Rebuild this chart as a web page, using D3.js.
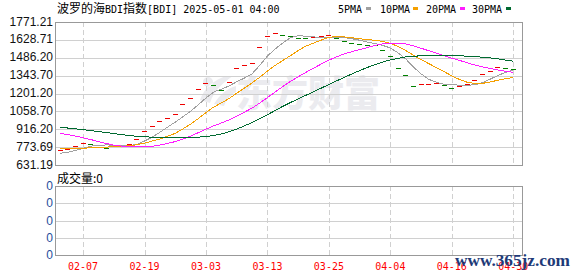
<!DOCTYPE html>
<html><head><meta charset="utf-8">
<script src="https://cdn.jsdelivr.net/npm/d3@7/dist/d3.min.js"></script>
<style>
html,body{margin:0;padding:0;background:#fff;}
svg{display:block;}
</style></head>
<body>
<svg id="chart" width="578" height="276"></svg>
<script>
// ---- data ----
const dates = ["02-04","02-05","02-06","02-07","02-10","02-11","02-12","02-13","02-14","02-17",
  "02-18","02-19","02-20","02-21","02-24","02-25","02-26","02-27","02-28","03-03",
  "03-04","03-05","03-06","03-07","03-10","03-11","03-12","03-13","03-14","03-17",
  "03-18","03-19","03-20","03-21","03-24","03-25","03-26","03-27","03-28","03-31",
  "04-01","04-02","04-03","04-04","04-07","04-08","04-09","04-10","04-11","04-14",
  "04-15","04-16","04-17","04-22","04-23","04-24","04-25","04-28","04-29","04-30"];
const prevClose = 740;
const closeValues = [751,761,785,809,801,790,769,781,790,801,
  836,900,940,982,1006,1035,1115,1163,1235,1282,
  1271,1229,1290,1402,1428,1442,1569,1659,1681,1667,
  1659,1646,1640,1650,1659,1664,1641,1622,1606,1595,
  1590,1588,1547,1500,1402,1349,1261,1277,1280,1287,
  1269,1242,1262,1276,1306,1356,1378,1410,1402,1394];
const ma5 = [724,733,746,764,781,789,791,790,786,786,
  795,822,853,892,933,973,1016,1060,1111,1166,
  1213,1236,1261,1295,1324,1358,1426,1500,1556,1604,
  1647,1662,1658,1652,1650,1651,1651,1647,1638,1626,
  1611,1600,1585,1564,1525,1477,1412,1358,1314,1291,
  1275,1271,1268,1267,1271,1288,1316,1345,1370,1388];
const ma10 = [759,760,762,765,768,771,774,777,780,784,
  792,806,822,839,860,884,919,957,1001,1049,
  1093,1126,1161,1203,1245,1286,1331,1381,1425,1464,
  1503,1544,1579,1603,1627,1649,1656,1652,1645,1638,
  1631,1625,1616,1601,1576,1544,1506,1472,1439,1408,
  1376,1341,1313,1291,1281,1282,1293,1307,1319,1330];
const ma20 = [884,874,862,848,834,818,803,790,782,778,
  777,777,780,790,803,818,838,862,889,917,
  943,966,991,1021,1052,1085,1125,1169,1213,1257,
  1298,1335,1370,1403,1436,1467,1494,1517,1535,1551,
  1567,1585,1597,1602,1601,1596,1581,1562,1542,1523,
  1503,1483,1465,1446,1428,1413,1400,1389,1379,1369];
const ma30 = [932,926,920,913,906,898,890,882,874,866,
  860,856,853,851,850,849,849,850,853,858,
  866,878,896,918,943,970,1000,1032,1065,1099,
  1129,1159,1187,1215,1244,1273,1302,1330,1357,1384,
  1409,1432,1452,1469,1482,1493,1498,1502,1503,1503,
  1503,1504,1503,1498,1494,1491,1485,1477,1468,1458];
const yTickLabels = ["1771.21","1628.71","1486.20","1343.70","1201.20","1058.70","916.20","773.69","631.19"];
const xTickLabels = ["02-07","02-19","03-03","03-13","03-25","04-04","04-16","04-30"];
const volTickLabels = ["0","0","0","0","0"];
const seriesNames = ["5PMA","10PMA","20PMA","30PMA"];
const titleParts = ["波罗的海","BDI","指数","[BDI] 2025-05-01 04:00"];
const volTitle = "成交量:0";

// ---- layout ----
const svg = d3.select("#chart");
const L = 55, R = 522, T = 22, B = 165;
const VT = 186, VB = 255;
const monoFont = "'DejaVu Sans Mono', monospace";
const cjkFont = "'Noto Sans CJK SC', sans-serif";
const sansFont = "'Liberation Sans', Arial, sans-serif";
const colors = ["#a0a0a0", "#f5a000", "#ff1cff", "#006a30"];
const maSeries = [ma5, ma10, ma20, ma30];

const x = d3.scalePoint().domain(dates).range([60, 513.3]);
const yVals = yTickLabels.map(Number);
const y = d3.scaleLinear().domain([d3.min(yVals), d3.max(yVals)]).range([B, T]);
const yv = d3.scaleLinear().domain([0, volTickLabels.length - 1]).range([VB, VT]);

// watermark (logo)
const wm = svg.append("g").attr("fill", "#ebebef");
wm.append("path")
  .attr("d", "M200,100 C204,88 214,80 226,76 L233,76 C224,82 214,90 210,103 Z M214,104 C220,94 228,88 236,86 L236,92 C230,95 226,100 224,106 Z M203,82 a5,5 0 1,0 10,0 a5,5 0 1,0 -10,0");
wm.append("text").attr("x", 236).attr("y", 107)
  .attr("font-family", cjkFont).attr("font-weight", 900).attr("font-size", 36)
  .text("东方财富");

// grid main
const gMain = svg.append("g").attr("shape-rendering", "crispEdges");
gMain.selectAll("line.h").data(yVals).enter().append("line")
  .attr("x1", L).attr("x2", R).attr("y1", d => Math.round(y(d)) + 0.5).attr("y2", d => Math.round(y(d)) + 0.5)
  .attr("stroke", "#d0d0d0");
const xTickDates = xTickLabels;
gMain.selectAll("line.v").data(xTickDates).enter().append("line")
  .attr("x1", d => Math.round(x(d)) + 0.5).attr("x2", d => Math.round(x(d)) + 0.5)
  .attr("y1", T).attr("y2", B)
  .attr("stroke", "#d0d0d0").attr("stroke-dasharray", "5,3");

// grid volume
const gVol = svg.append("g").attr("shape-rendering", "crispEdges");
gVol.selectAll("line.h").data(d3.range(volTickLabels.length)).enter().append("line")
  .attr("x1", L).attr("x2", R).attr("y1", d => Math.round(yv(d)) + 0.5).attr("y2", d => Math.round(yv(d)) + 0.5)
  .attr("stroke", "#d0d0d0");
gVol.selectAll("line.v").data(xTickDates).enter().append("line")
  .attr("x1", d => Math.round(x(d)) + 0.5).attr("x2", d => Math.round(x(d)) + 0.5)
  .attr("y1", VT).attr("y2", VB)
  .attr("stroke", "#d0d0d0").attr("stroke-dasharray", "5,3");

// frames
svg.append("rect").attr("x", L + 0.5).attr("y", T + 0.5).attr("width", R - L).attr("height", B - T)
  .attr("fill", "none").attr("stroke", "#999").attr("shape-rendering", "crispEdges");
svg.append("rect").attr("x", L + 0.5).attr("y", VT + 0.5).attr("width", R - L).attr("height", VB - VT)
  .attr("fill", "none").attr("stroke", "#999").attr("shape-rendering", "crispEdges");

// candles (open == close -> dashes)
const candles = svg.append("g").attr("shape-rendering", "crispEdges");
candles.selectAll("rect").data(closeValues).enter().append("rect")
  .attr("x", (d, i) => Math.round(x(dates[i]) - 2.5))
  .attr("y", d => Math.round(y(d)))
  .attr("width", 5).attr("height", 1)
  .attr("fill", (d, i) => d >= (i === 0 ? prevClose : closeValues[i - 1]) ? "#ee0000" : "#008000");

// MA lines
const line = d3.line().x((d, i) => x(dates[i])).y(d => y(d));
maSeries.forEach((s, k) => {
  svg.append("path").datum(s).attr("d", line)
    .attr("fill", "none").attr("stroke", colors[k]).attr("stroke-width", 1)
    .attr("shape-rendering", "crispEdges");
});

// y-axis labels
svg.append("g").selectAll("text").data(yTickLabels).enter().append("text")
  .attr("x", 53).attr("y", d => y(+d) + 3.5)
  .attr("text-anchor", "end").attr("font-family", sansFont).attr("font-size", 12)
  .attr("fill", "#111").text(d => d);

// volume y labels
svg.append("g").selectAll("text").data(volTickLabels).enter().append("text")
  .attr("x", 53).attr("y", (d, i) => yv(i) + 4)
  .attr("text-anchor", "end").attr("font-family", sansFont).attr("font-size", 12)
  .attr("fill", "#1f4e9c").text(d => d);

// x labels
svg.append("g").selectAll("text").data(xTickLabels).enter().append("text")
  .attr("x", d => x(d)).attr("y", 270)
  .attr("text-anchor", "middle").attr("font-family", monoFont).attr("font-size", 10)
  .attr("fill", "#ff0000").text(d => d);

// title
const title = svg.append("text").attr("x", 57).attr("y", 13).attr("fill", "#000");
titleParts.forEach((p, i) => {
  title.append("tspan").attr("font-family", i % 2 === 0 ? cjkFont : monoFont)
    .attr("font-size", i % 2 === 0 ? 12 : 10).text(p);
});

// legend
const legX = [338, 380, 426, 472];
const legSw = [366, 413, 460, 506];
seriesNames.forEach((n, k) => {
  svg.append("text").attr("x", legX[k]).attr("y", 13)
    .attr("font-family", monoFont).attr("font-size", 10).attr("fill", "#000").text(n);
  svg.append("rect").attr("x", legSw[k]).attr("y", 7).attr("width", 5).attr("height", 3)
    .attr("fill", colors[k]);
});

// volume title
svg.append("text").attr("x", 57).attr("y", 183)
  .attr("font-family", cjkFont).attr("font-size", 12).attr("fill", "#000").text(volTitle);

// site watermark (overlaps the last axis labels, as in the reference)
svg.append("text").attr("x", 455).attr("y", 266)
  .attr("font-family", "'Liberation Serif', serif").attr("font-weight", "bold").attr("font-size", 17)
  .attr("textLength", 115).attr("lengthAdjust", "spacingAndGlyphs")
  .attr("fill", "#1e3a78").text("www.365jz.com");
</script>
</body></html>
